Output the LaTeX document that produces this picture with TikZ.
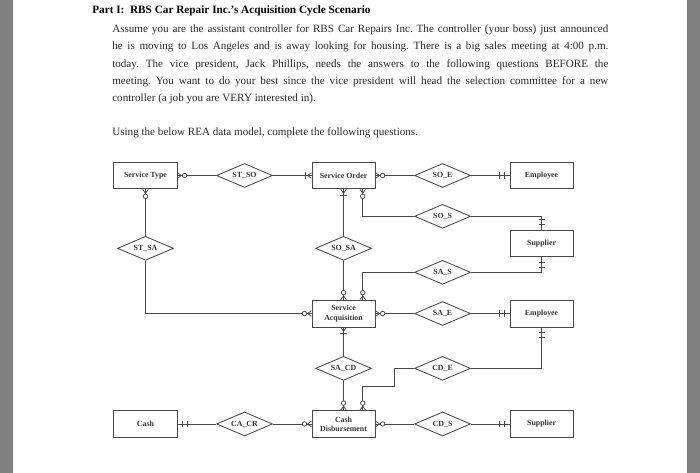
\documentclass[tikz,border=0pt]{standalone}
\usepackage{fontspec}
\setmainfont{Liberation Serif}
\usetikzlibrary{shapes.geometric, positioning, decorations.markings}

\definecolor{sidebar}{RGB}{128,128,128}
\definecolor{inkgray}{RGB}{70,70,70}

% crow's foot ends (drawn at the entity end of a path)
\tikzset{
  zmany/.style={postaction={decorate, decoration={markings, mark=at position 1 with {
      \draw[inkgray, line width=0.55pt] (-2.8pt,0) -- (0,2pt) (-2.8pt,0) -- (0,-2pt);
      \draw[inkgray, line width=0.55pt, fill=white] (-5pt,0) circle (1.6pt);}}}},
  omany/.style={postaction={decorate, decoration={markings, mark=at position 1 with {
      \draw[inkgray, line width=0.55pt] (-2.8pt,0) -- (0,2pt) (-2.8pt,0) -- (0,-2pt);
      \draw[inkgray, line width=0.55pt] (-4.3pt,-2.2pt) -- (-4.3pt,2.2pt);}}}},
  oneone/.style={postaction={decorate, decoration={markings, mark=at position 1 with {
      \draw[inkgray, line width=0.55pt] (-3.5pt,-2.2pt) -- (-3.5pt,2.2pt)
                                        (-7pt,-2.2pt) -- (-7pt,2.2pt);}}}}
}

\frenchspacing

\begin{document}
\begin{tikzpicture}[
  x=0.025cm, y=-0.025cm,
  node distance=2.475cm, on grid,
  entity/.style={rectangle, draw=inkgray, line width=0.6pt,
                 minimum width=1.58cm, minimum height=0.67cm,
                 align=center, inner sep=1pt, text=black!80,
                 font=\fontsize{5.6}{6.6}\selectfont\bfseries},
  rel/.style={diamond, draw=inkgray, line width=0.6pt, aspect=2.3,
              minimum width=1.4cm, minimum height=0.6cm, inner sep=0pt,
              text=black!80, font=\fontsize{5.6}{6.6}\selectfont\bfseries},
  link/.style={draw=inkgray, line width=0.6pt},
  body/.style={anchor=north west, inner sep=0pt, text=black!85,
               font=\fontsize{7.9}{12.3}\selectfont}
]

% page
\useasboundingbox (0,0) rectangle (700,473);
\fill[sidebar] (0,0) rectangle (700,473);
\fill[white] (13,0) rectangle (687,473);

% Text
\node[anchor=base west, inner sep=0pt, font=\fontsize{8}{10}\selectfont\bfseries]
  (title) at (92,14) {Part I:\ \ RBS Car Repair Inc.’s Acquisition Cycle Scenario};
\node[body, text width=12.4cm, align=justify] (intro) at (112,24.5)
  {Assume you are the assistant controller for RBS Car Repairs Inc. The controller (your boss) just announced\linebreak
   he is moving to Los Angeles and is away looking for housing. There is a big sales meeting at 4:00 p.m.\linebreak
   today. The vice president, Jack Phillips, needs the answers to the following questions BEFORE the\linebreak
   meeting. You want to do your best since the vice president will head the selection committee for a new\linebreak
   controller (a job you are VERY interested in).};
\node[body] (task) at (112,127) {Using the below REA data model, complete the following questions.};

% Entities and relationships
\node[entity] (stype) at (145.5,175.5) {Service Type};
\node[rel, right=of stype] (stso) {ST\_SO};
\node[entity, right=of stso] (sorder) {Service Order};
\node[rel, right=of sorder] (soe) {SO\_E};
\node[entity, right=of soe] (emp1) {Employee};
\node[rel, below=1.02cm of soe] (sos) {SO\_S};
\node[entity, below=1.7cm of emp1] (sup1) {Supplier};
\node[rel, below=1.82cm of stype] (stsa) {ST\_SA};
\node[rel, below=1.82cm of sorder] (sosa) {SO\_SA};
\node[rel, below=1.4cm of sos] (sas) {SA\_S};
\node[entity, below=3.45cm of sorder] (sacq) {Service\\Acquisition};
\node[rel, right=of sacq] (sae) {SA\_E};
\node[entity, right=of sae] (emp2) {Employee};
\node[rel, below=1.37cm of sacq] (sacd) {SA\_CD};
\node[rel, right=of sacd] (cde) {CD\_E};
\node[entity, below=1.39cm of sacd] (cdisb) {Cash\\Disbursement};
\node[rel, left=of cdisb] (cacr) {CA\_CR};
\node[entity, left=of cacr] (cash) {Cash};
\node[rel, right=of cdisb] (cds) {CD\_S};
\node[entity, right=of cds] (sup2) {Supplier};

% Connectors
\draw[link, zmany]  (stso) -- (stype);
\draw[link, omany]  (stso) -- (sorder);
\draw[link, zmany]  (soe) -- (sorder);
\draw[link, oneone] (soe) -- (emp1);
\draw[link, omany]  (sosa) -- (sorder);
\draw[link, zmany]  (sosa) -- (sacq);
\draw[link, zmany]  (sos.west) -| ([xshift=0.48cm]sorder.south);
\draw[link, oneone] (sos.east) -| (sup1.north);
\draw[link, oneone] (sas.east) -| (sup1.south);
\draw[link, zmany]  (sas.west) -| ([xshift=0.48cm]sacq.north);
\draw[link, zmany]  (stsa) -- (stype);
\draw[link, zmany]  (stsa.south) |- (sacq.west);
\draw[link, zmany]  (sae) -- (sacq);
\draw[link, oneone] (sae) -- (emp2);
\draw[link, omany]  (sacd) -- (sacq);
\draw[link, zmany]  (sacd) -- (cdisb);
\draw[link, oneone] (cde.east) -| (emp2.south);
\draw[link, zmany]  (cde.west) -- ++(-0.5cm,0) |- ([shift={(0.48cm,0.6cm)}]cdisb.north)
                    -- ([xshift=0.48cm]cdisb.north);
\draw[link, oneone] (cacr) -- (cash);
\draw[link, zmany]  (cacr) -- (cdisb);
\draw[link, zmany]  (cds) -- (cdisb);
\draw[link, oneone] (cds) -- (sup2);

\end{tikzpicture}
\end{document}
